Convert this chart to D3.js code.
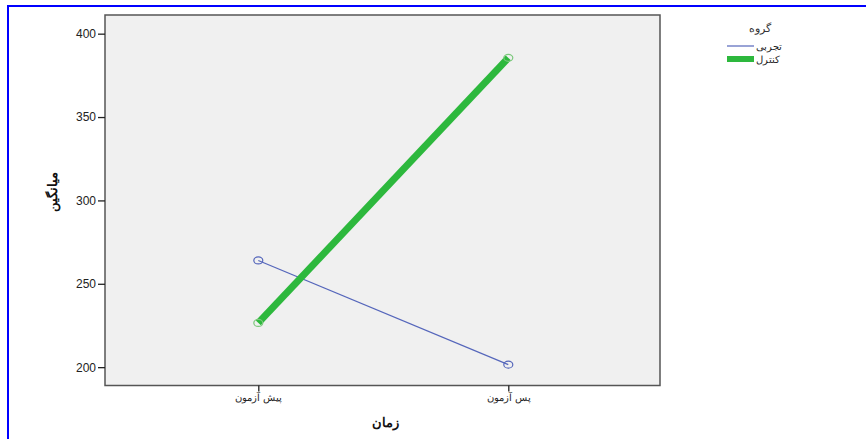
<!DOCTYPE html>
<html><head><meta charset="utf-8">
<script src="https://cdn.jsdelivr.net/npm/d3@7"></script>
<style>body{margin:0;background:#fff;}svg{display:block;font-family:"Liberation Sans",Arial,sans-serif;}</style>
</head><body><svg id="c" width="866" height="439"></svg>
<script>
const categories = ["پیش آزمون", "پس آزمون"];
const seriesNames = ["تجربی", "کنترل"];
const experimental = [264, 201.5];
const control = [226.5, 385.5];
const yTicks = [200, 250, 300, 350, 400];
const legendTitle = "گروه";
const xTitle = "زمان";
const yTitle = "میانگین";

const svg = d3.select("#c");
// blue frame
svg.append("path").attr("d","M8,439 V6 H866").attr("fill","none").attr("stroke","#0000ff").attr("stroke-width",2);

const L=105, R=660, T=15, B=385.5;
const x = d3.scalePoint().domain(categories).range([258.3, 508.3]);
const y = d3.scaleLinear().domain([189, 411.2]).range([B, T]);

svg.append("rect").attr("x",L).attr("y",T).attr("width",R-L).attr("height",B-T)
  .attr("fill","#f0f0f0").attr("stroke","#555").attr("stroke-width",1.5);

const yAxis = svg.append("g").attr("transform",`translate(${L},0)`)
  .call(d3.axisLeft(y).tickValues(yTicks).tickSize(7).tickPadding(2));
yAxis.select(".domain").remove();
yAxis.selectAll("line").attr("stroke","#222").attr("stroke-width",1.3);
yAxis.selectAll("text").attr("font-size",12).attr("fill","#222");

const xAxis = svg.append("g").attr("transform",`translate(0,${B})`)
  .call(d3.axisBottom(x).tickSize(6).tickPadding(2));
xAxis.select(".domain").remove();
xAxis.selectAll("line").attr("stroke","#222").attr("stroke-width",1.3);
xAxis.selectAll("text").attr("font-size",10).attr("fill","#222");

const line = d3.line().x((d,i)=>x(categories[i])).y(d=>y(d));
const series = [
  {name: seriesNames[0], values: experimental, color:"#5566bb", w:1.2},
  {name: seriesNames[1], values: control, color:"#2db83d", w:7}
];
series.forEach(s=>{
  svg.append("path").datum(s.values).attr("d",line).attr("fill","none")
    .attr("stroke",s.color).attr("stroke-width",s.w);
  svg.selectAll(null).data(s.values).enter().append("ellipse")
    .attr("cx",(d,i)=>x(categories[i])).attr("cy",d=>y(d)).attr("rx",4.5).attr("ry",3.5)
    .attr("fill","none").attr("stroke",s.color==="#5566bb"?"#5566bb":"#7cc87c").attr("stroke-width",1.2);
});

// legend
svg.append("text").attr("x",760).attr("y",32).attr("text-anchor","middle").attr("font-size",11).attr("fill","#333").text(legendTitle);
series.forEach((s,i)=>{
  const yy = 46 + i*13;
  svg.append("line").attr("x1",727).attr("x2",754).attr("y1",yy).attr("y2",yy)
    .attr("stroke",s.color).attr("stroke-width",i===0?1.2:6);
  svg.append("text").attr("x",756).attr("y",yy+4).attr("font-size",10).attr("fill","#222").text(s.name);
});

svg.append("text").attr("x",385).attr("y",427).attr("text-anchor","middle").attr("font-size",13).attr("font-weight","bold").attr("fill","#111").text(xTitle);
svg.append("text").attr("transform","translate(57,192) rotate(-90)").attr("text-anchor","middle").attr("font-size",13).attr("font-weight","bold").attr("fill","#111").text(yTitle);
</script></body></html>
